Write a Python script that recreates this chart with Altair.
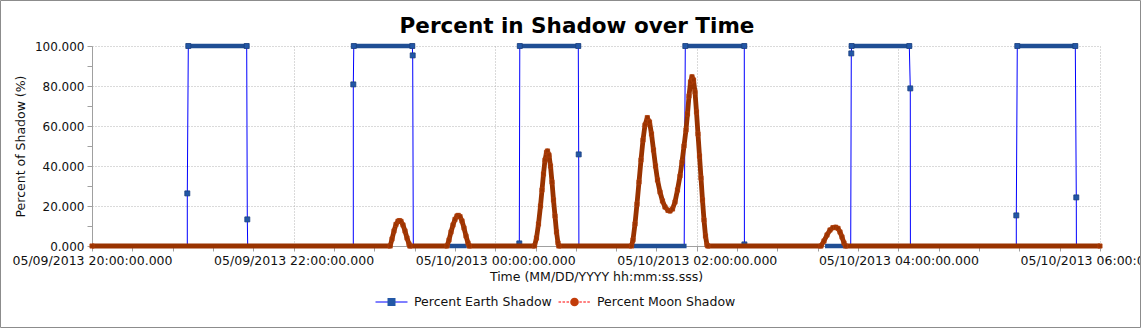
import altair as alt
import pandas as pd

FONT = "DejaVu Sans"
TXT = "#111111"

# ---------------- data (minutes after 05/09/2013 20:00:00) ----------------
# Percent Earth Shadow: samples around each eclipse entry / exit
earth_min = [56.73, 56.73, 57.32, 92.08, 92.44, 92.68,
             155.54, 155.54, 155.83, 190.65, 190.89, 191.25,
             254.35, 254.35, 254.64, 289.46, 289.70, 289.82,
             352.50, 353.15, 388.27, 388.33,
             451.61, 451.96, 452.14, 486.49, 487.08, 487.14,
             550.18, 550.18, 550.77, 585.30, 585.89, 585.95]
earth_val = [0, 26.3, 100, 100, 13.3, 0,
             0, 80.8, 100, 100, 95.3, 0,
             0, 1.3, 100, 100, 45.8, 0,
             0, 100, 100, 0.8,
             0, 96.3, 100, 100, 78.8, 0,
             0, 15.3, 100, 100, 24.3, 0]
earth_seg = [1] * 6 + [2] * 6 + [3] * 6 + [4] * 4 + [5] * 6 + [6] * 6

# Percent Earth Shadow: runs of densely sampled constant values
run_start = [57.32, 155.83, 254.64, 353.15, 452.14, 550.77, 213.99, 323.51, 437.68]
run_end = [92.08, 190.65, 289.46, 388.27, 486.49, 585.30, 221.73, 352.56, 447.86]
run_val = [100, 100, 100, 100, 100, 100, 0, 0, 0]

# Percent Moon Shadow
moon_min = [0,
            177.50, 178.57, 179.76, 180.95, 182.14, 183.04, 183.93, 185.12, 186.31, 187.50, 188.69, 189.17,
            211.31, 212.50, 213.69, 214.88, 216.07, 217.26, 218.04, 219.05, 220.24, 221.43, 222.62, 223.81, 224.52,
            263.39, 264.58, 265.77, 266.96, 267.86, 268.75, 269.64, 270.54, 271.13, 272.02, 272.92, 273.81,
            274.70, 275.60, 276.49, 277.38, 277.86,
            321.13, 322.02, 323.21, 324.40, 325.60, 326.79, 327.98, 329.17, 330.54, 331.85, 333.04, 334.23,
            335.42, 336.61, 338.10, 339.58, 341.07, 342.86, 344.05, 345.54, 347.02, 348.51, 350.00, 351.19,
            352.38, 353.57, 354.46, 355.36, 356.25, 357.14, 358.04, 358.93, 359.82, 360.71, 361.61, 362.50,
            363.39, 364.29, 365.18, 366.07, 366.55,
            433.93, 435.71, 437.50, 439.29, 441.07, 442.68, 444.05, 445.24, 446.43, 447.62, 448.51,
            600]
moon_val = [0,
            0, 3.5, 7.5, 10.8, 12.4, 12.7, 12.3, 10.5, 7.5, 4, 1, 0,
            0, 3, 7, 10.5, 13.3, 15, 15.3, 14.7, 12.5, 9, 5, 1.5, 0,
            0, 4, 11, 20, 28, 36, 43, 46.8, 47.5, 45.5, 40, 32,
            23, 15, 7, 1.5, 0,
            0, 3, 11, 21, 32, 43, 53, 60.5, 64.2, 62, 56, 48,
            40, 33, 27, 22.5, 19.5, 17.8, 17.5, 18.5, 22, 28, 35, 42,
            50, 58, 66, 75, 82, 84.6, 83, 77, 67, 56, 45, 34,
            23, 13, 5, 0.5, 0,
            0, 2.5, 5.5, 8, 9.2, 9.4, 8.8, 7, 4.5, 1.5, 0,
            0]

series_names = ["Percent Earth Shadow", "Percent Moon Shadow"]

earth_df = pd.DataFrame({"m": earth_min, "v": earth_val, "seg": earth_seg})
run_df = pd.DataFrame({"m1": run_start, "m2": run_end, "v": run_val})
moon_df = pd.DataFrame({"m": moon_min, "v": moon_val})

BASE = "time(datetime(2013, 4, 9, 20, 0, 0, 0))"

# ---------------- axes ----------------
x_ticks = []
for i in range(26):
    total = 20 * 60 + i * 24
    day = 9 + total // (24 * 60)
    mins = total % (24 * 60)
    x_ticks.append(alt.DateTime(year=2013, month=5, date=day, hours=mins // 60, minutes=mins % 60))

x_axis = alt.Axis(
    values=x_ticks,
    labelExpr="(minutes(datum.value) == 0 && hours(datum.value) % 2 == 0) ? timeFormat(datum.value, '%m/%d/%Y %H:%M:%S.%L') : ''",
    labelOverlap=False, labelFlush=False, labelFont=FONT, labelFontSize=12.5, labelColor=TXT,
    labelPadding=3, tickSize=5, tickColor="#a0a0a0", domainColor="#a0a0a0",
    grid=True, gridColor="#b4b4b4", gridDash=[1, 2],
    gridOpacity={"condition": {"test": "minutes(datum.value) != 0 || hours(datum.value) % 2 != 0", "value": 0}, "value": 1},
    title="Time (MM/DD/YYYY hh:mm:ss.sss)", titleFont=FONT, titleFontSize=12.5,
    titleFontWeight="normal", titleColor=TXT, titlePadding=4)

y_axis = alt.Axis(
    values=list(range(0, 101, 10)),
    labelExpr="datum.value % 20 == 0 ? format(datum.value, '.3f') : ''",
    labelFont=FONT, labelFontSize=12, labelColor=TXT, labelPadding=3,
    tickSize=5, tickColor="#a0a0a0", domainColor="#a0a0a0",
    grid=True, gridColor="#b4b4b4", gridDash=[1, 2],
    gridOpacity={"condition": {"test": "datum.value % 20 != 0", "value": 0}, "value": 1},
    title="Percent of Shadow (%)", titleFont=FONT, titleFontSize=12.5,
    titleFontWeight="normal", titleColor=TXT, titlePadding=7)

x_scale = alt.Scale(domain=[alt.DateTime(year=2013, month=5, date=9, hours=20),
                            alt.DateTime(year=2013, month=5, date=10, hours=6)])
y_scale = alt.Scale(domain=[0, 100], nice=False)

X = alt.X("t:T", scale=x_scale, axis=x_axis)
Y = alt.Y("v:Q", scale=y_scale, axis=y_axis)

# ---------------- layers ----------------
frame = alt.Chart(pd.DataFrame({"a": [0]})).mark_rect(
    fillOpacity=0, stroke="#8c8c8c", strokeWidth=1
).encode(x=alt.value(-91.5), x2=alt.value(1048.5), y=alt.value(-45.5), y2=alt.value(281.5))

earth_line = alt.Chart(earth_df).transform_calculate(
    t=f"{BASE} + datum.m * 60000"
).mark_line(color="#0000ff", strokeWidth=1).encode(x=X, y=Y, detail="seg:N")

earth_runs = alt.Chart(run_df).transform_calculate(
    t=f"{BASE} + datum.m1 * 60000", t2=f"{BASE} + datum.m2 * 60000"
).mark_rule(color="#1f4e94", strokeWidth=4.5, strokeCap="square").encode(
    x=alt.X("t:T", scale=x_scale, axis=x_axis), x2="t2:T", y=Y)

earth_pts = alt.Chart(earth_df).transform_filter("datum.v > 0.5").transform_calculate(
    t=f"{BASE} + datum.m * 60000"
).mark_square(size=25, filled=True, fill="#2257a6", stroke="#1a3f7e", strokeWidth=0.8, opacity=1).encode(x=X, y=Y)

moon_line = alt.Chart(moon_df).transform_calculate(
    t=f"{BASE} + datum.m * 60000"
).mark_line(color="#993300", strokeWidth=4.8, strokeJoin="round").encode(x=X, y=Y)

moon_pts = alt.Chart(moon_df).transform_calculate(
    t=f"{BASE} + datum.m * 60000"
).mark_square(size=18, filled=True, fill="#993300", stroke="#b5410c", strokeWidth=0.7, opacity=1).encode(x=X, y=Y)

# legend symbols (custom paths, unit box -1..1 == 32 px): line part and marker part
earth_line_sym = "M-1,0H1"
earth_mark_sym = "M-0.25,-0.25H0.25V0.25H-0.25Z"
dash, gap = 0.16, 0.09
parts = []
p = -1.0
while p < -0.3:
    parts.append(f"M{p:.3f},0H{min(p + dash, -0.3):.3f}")
    p += dash + gap
p = 0.3
while p < 1.0:
    parts.append(f"M{p:.3f},0H{min(p + dash, 1.0):.3f}")
    p += dash + gap
moon_line_sym = "".join(parts)
moon_mark_sym = "M-0.27,0A0.27,0.27 0 1,0 0.27,0A0.27,0.27 0 1,0 -0.27,0Z"


def legend_layer(name, sym, color, filled, lx, show_label):
    leg = alt.Legend(title=None, orient="none", legendX=lx, legendY=239.5, direction="horizontal",
                     symbolSize=1024, symbolStrokeWidth=1, symbolOpacity=1,
                     labelFont=FONT, labelFontSize=12.5, labelColor=TXT, labelOffset=6,
                     labelOpacity=1 if show_label else 0, padding=0, rowPadding=0)
    return alt.Chart(pd.DataFrame({"s": [name]})).mark_point(
        filled=filled, color=color, opacity=0
    ).encode(shape=alt.Shape("s:N", scale=alt.Scale(domain=[name], range=[sym]), legend=leg))


leg_layers = [
    legend_layer(series_names[0], earth_line_sym, "#0000ff", False, 283, True),
    legend_layer(series_names[0], earth_mark_sym, "#2257a6", True, 283, False),
    legend_layer(series_names[1], moon_line_sym, "#ff0000", False, 466, True),
    legend_layer(series_names[1], moon_mark_sym, "#c23c0a", True, 466, False),
]

chart = alt.layer(
    frame, earth_line, earth_runs, earth_pts, moon_line, moon_pts, *leg_layers
).resolve_scale(shape="independent").resolve_legend(shape="independent").properties(
    width=1008, height=200,
    padding={"left": 92, "top": 46, "right": 41, "bottom": 82},
    autosize=alt.AutoSizeParams(type="none"),
    title=alt.TitleParams("Percent in Shadow over Time", font=FONT, fontSize=21.5, fontWeight="bold",
                          color="#000000", anchor="middle", baseline="alphabetic",
                          dx=-19, dy=54, offset=0),
).configure_view(stroke=None)

chart.save("out.html", embed_options={"renderer": "svg", "actions": False})
